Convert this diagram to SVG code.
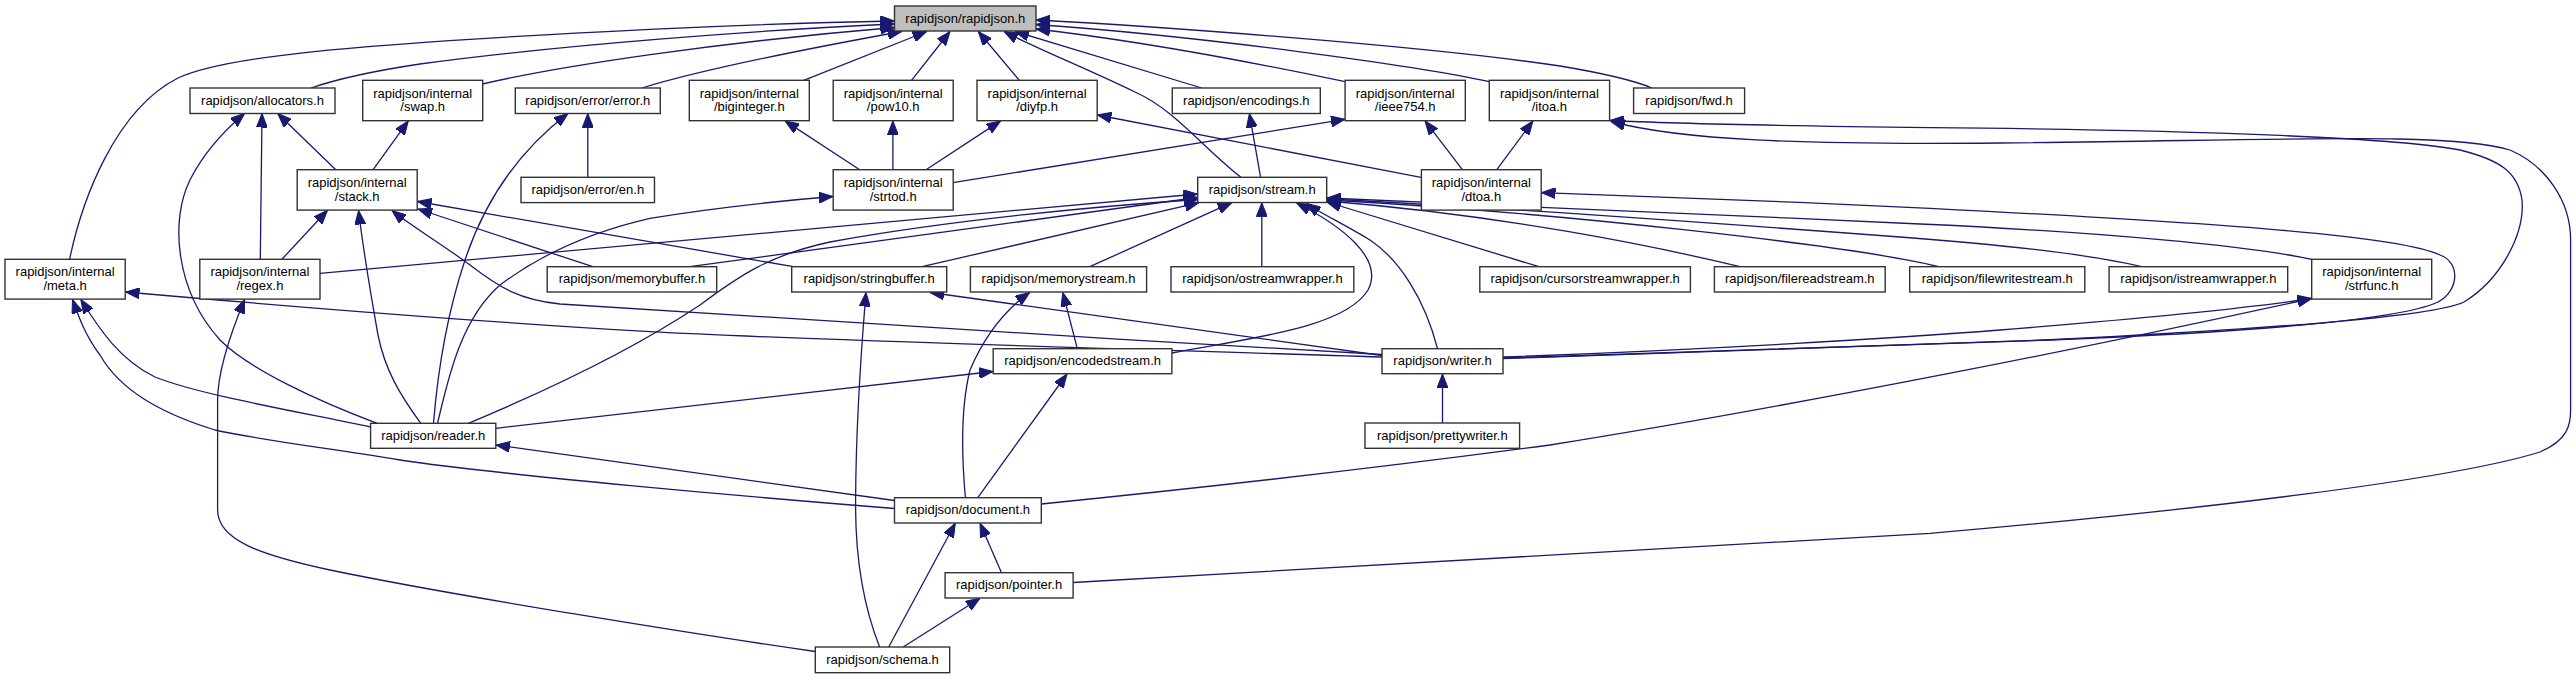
<svg xmlns="http://www.w3.org/2000/svg" width="2576" height="679" viewBox="0 0 2576 679">
<defs>
<marker id="ah" markerUnits="userSpaceOnUse" markerWidth="14" markerHeight="11" refX="14" refY="5.5" orient="auto">
<path d="M0,0 L14,5.5 L0,11 z" fill="#191970" stroke="#191970" stroke-width="1"/>
</marker>
<style>
.n rect{fill:#ffffff;stroke:#333333;stroke-width:1.4}
.n.main rect{fill:#bfbfbf}
.n text{font-family:"Liberation Sans",Arial,sans-serif;font-size:13px;fill:#000000;text-anchor:middle}
#edges path{fill:none;stroke:#191970;stroke-width:1.3;marker-end:url(#ah)}
</style>
</defs>
<rect width="2576" height="679" fill="#ffffff"/>
<g id="edges">
<!-- into rapidjson.h -->
<path d="M69.6,259.3 C82,200 115,110 178,78 C220,58 330,45 650,29.3 C760,24 840,22 894.3,21"/>
<path d="M311,88 C340,78 380,70 420,64 C560,45 760,30 894.3,24"/>
<path d="M482.5,84 C560,66 720,42 894.3,27.5"/>
<path d="M642,88 C700,70 800,50 901.7,31.5"/>
<path d="M803.7,80.3 L926.7,31.5"/>
<path d="M911.5,80.3 L950,31.5"/>
<path d="M1019.3,80.3 L978.3,31.5"/>
<path d="M1241,177.3 C1200,145 1175,110 1135,92 C1090,70 1040,50 1004,31.5"/>
<path d="M1201.7,88 L1015,31.5"/>
<path d="M1345.1,81.7 C1280,68 1150,42 1036,29"/>
<path d="M1489.3,81.7 C1420,66 1200,36 1036,24.5"/>
<path d="M1652,88 C1640,83 1620,76 1560,66 C1420,45 1150,26 1036,20"/>
<!-- allocators -->
<path d="M335.8,169.7 L277.7,113.5"/>
<path d="M260.3,259.3 L262,113.5"/>
<path d="M377.2,423.3 C320,402 250,370 220,340 C175,290 170,220 190,180 C205,150 225,130 244.6,113.5"/>
<!-- swap -->
<path d="M373.1,169.7 L408.3,120.9"/>
<!-- error -->
<path d="M587.8,177.3 L587.8,113.5"/>
<path d="M433.5,423.3 C437,380 445,320 465,260 C485,200 520,150 568,113.5"/>
<!-- biginteger, pow10, diyfp -->
<path d="M859.7,169.7 L785.1,120.9"/>
<path d="M892.9,169.7 L892.9,120.9"/>
<path d="M926,169.7 L1000.6,120.9"/>
<path d="M1421,177.3 L1097.4,115"/>
<!-- ieee754, itoa -->
<path d="M953,182.7 L1345,119.3"/>
<path d="M1462.4,169.7 L1425,120.9"/>
<path d="M1496.8,169.7 L1532.9,120.9"/>
<!-- encodings -->
<path d="M1260.6,177.3 L1249.4,113.5"/>
<!-- strtod -->
<path d="M437.5,423.3 C448,380 460,320 500,285 C540,255 590,232 650,218.3 C720,207 790,200 833,196.5"/>
<!-- stack -->
<path d="M281.9,259.3 L327.5,210.3"/>
<path d="M420.8,423.3 C400,395 385,370 378,335 C370,290 362,240 358.6,210.5"/>
<path d="M1382,354.5 C1100,338 750,318 560,304 C520,300 500,288 470,265 C440,243 410,225 392,210.5"/>
<path d="M592.8,266.7 L418,209"/>
<path d="M793.4,266.7 L417.5,201.5"/>
<!-- meta -->
<path d="M1382,357 C1100,348 800,340 650,331.7 C450,320 250,303 125.5,292"/>
<path d="M370.6,427 C300,412 200,395 155,377 C120,360 100,330 80.8,299.5"/>
<path d="M894.5,508.5 C750,497 500,475 400,460 C320,447 260,440 215,430 C160,413 120,390 100,355 C85,335 78,315 72.5,299.5"/>
<!-- regex -->
<path d="M815.3,651.5 C700,635 450,595 330,570 C260,555 217.6,540 217.6,510 L217.6,400 C217.6,370 232,330 244.6,299.5"/>
<!-- stream -->
<path d="M320,273.3 L1197.5,194"/>
<path d="M689.7,266.7 L1197.5,197.5"/>
<path d="M468.4,423.3 C560,385 640,345 700,305 C740,275 770,255 830,242 C950,220 1100,206 1197.5,199.5"/>
<path d="M921.9,266.7 L1199,202.7"/>
<path d="M1089.8,266.7 L1231.7,202.7"/>
<path d="M1261.8,266.7 L1261.8,202.7"/>
<path d="M1539,266.7 L1326.9,202"/>
<path d="M1740,266.7 C1650,245 1500,215 1326.9,201"/>
<path d="M1938.8,266.7 C1850,245 1550,212 1326.9,200"/>
<path d="M2141.7,266.7 C2080,252 1980,243 1900,237 C1700,222 1450,205 1326.9,199"/>
<path d="M2311.6,259.3 C2250,246 2100,232 1920,224 C1700,214 1450,203 1326.9,198"/>
<path d="M1172,353 C1250,338 1345,328 1368,290 C1385,258 1340,225 1296.7,203"/>
<path d="M1437.5,348.7 C1425,300 1400,260 1370,240 C1340,222 1320,213 1306.7,203.5"/>
<!-- stringbuffer -->
<path d="M1382,355.5 L930.2,292.5"/>
<path d="M879.6,647 C865,610 855,560 855.6,500 C856,420 862,340 866,292.5"/>
<!-- memorystream -->
<path d="M1077.3,348.7 L1062.8,292.5"/>
<path d="M965.4,497.7 C962,460 960,410 970,370 C985,335 1005,310 1029.7,292.5"/>
<!-- reader -->
<path d="M894.5,500.5 L496,445"/>
<!-- encodedstream -->
<path d="M495.8,428.3 L993,371.5"/>
<path d="M977.8,497.7 L1067,374"/>
<!-- document -->
<path d="M888.7,647 L955.3,523.3"/>
<path d="M1001.5,572.7 L980,523.3"/>
<!-- pointer -->
<path d="M903.2,647 L980,598.3"/>
<!-- strfunc -->
<path d="M1041.3,504 C1200,488 1400,465 1550,445 C1800,405 2100,345 2311.6,298.5"/>
<path d="M1503,357 C1700,350 1900,338 2000,330 C2150,318 2250,308 2311.6,298.5"/>
<!-- dtoa loop -->
<path d="M1503,358 C1700,352 1900,346 2050,340 C2250,332 2400,320 2438,302 C2460,290 2460,262 2440,255 C2400,235 2200,222 1930,208.3 C1800,202 1650,196 1541.5,192.7"/>
<!-- itoa loops -->
<path d="M1503,358.5 C1700,353 1900,346 2045,340 C2250,330 2430,318 2464,302 C2500,280 2525,235 2522,200 C2518,172 2500,160 2460,150 C2400,138 2200,130 1930,127.7 C1800,126 1680,124 1610,120.5"/>
<path d="M1073.2,582.5 C1200,576 1500,560 1930,533.3 C2200,510 2450,480 2540,452 C2568,440 2570.6,425 2570.6,410 L2570.6,240 C2570.6,200 2545,165 2510,150 C2450,132 2300,140 2000,143 C1800,145 1680,140 1611,121.5"/>
<!-- writer -->
<path d="M1442.5,423 L1442.5,374"/>
</g>
<g id="n_rapidjson" class="n main"><rect x="894.5" y="6" width="141.5" height="25"/><text x="965.3" y="22.5">rapidjson/rapidjson.h</text></g>
<g id="n_allocators" class="n"><rect x="190" y="88" width="145" height="25.5"/><text x="262.5" y="104.7">rapidjson/allocators.h</text></g>
<g id="n_swap" class="n"><rect x="362.7" y="80.3" width="120" height="40.4"/><text x="422.7" y="97.5">rapidjson/internal</text><text x="422.7" y="111.3">/swap.h</text></g>
<g id="n_error" class="n"><rect x="515.3" y="88" width="145" height="25.5"/><text x="587.8" y="104.7">rapidjson/error/error.h</text></g>
<g id="n_biginteger" class="n"><rect x="689.3" y="80.3" width="120" height="40.4"/><text x="749.3" y="97.5">rapidjson/internal</text><text x="749.3" y="111.3">/biginteger.h</text></g>
<g id="n_pow10" class="n"><rect x="833.2" y="80.3" width="120" height="40.4"/><text x="893.2" y="97.5">rapidjson/internal</text><text x="893.2" y="111.3">/pow10.h</text></g>
<g id="n_diyfp" class="n"><rect x="977" y="80.3" width="120.2" height="40.4"/><text x="1037.1" y="97.5">rapidjson/internal</text><text x="1037.1" y="111.3">/diyfp.h</text></g>
<g id="n_encodings" class="n"><rect x="1172.3" y="88" width="148" height="25.5"/><text x="1246.3" y="104.7">rapidjson/encodings.h</text></g>
<g id="n_ieee754" class="n"><rect x="1345.1" y="80.3" width="120.2" height="40.4"/><text x="1405.2" y="97.5">rapidjson/internal</text><text x="1405.2" y="111.3">/ieee754.h</text></g>
<g id="n_itoa" class="n"><rect x="1489.3" y="80.3" width="120.3" height="40.4"/><text x="1549.4" y="97.5">rapidjson/internal</text><text x="1549.4" y="111.3">/itoa.h</text></g>
<g id="n_fwd" class="n"><rect x="1633.6" y="88" width="111" height="25.5"/><text x="1689.1" y="104.7">rapidjson/fwd.h</text></g>
<g id="n_stack" class="n"><rect x="297.2" y="169.7" width="120" height="40.4"/><text x="357.2" y="186.9">rapidjson/internal</text><text x="357.2" y="200.7">/stack.h</text></g>
<g id="n_en" class="n"><rect x="521" y="177.3" width="133.5" height="25.3"/><text x="587.8" y="193.9">rapidjson/error/en.h</text></g>
<g id="n_strtod" class="n"><rect x="833.2" y="169.7" width="120" height="40.4"/><text x="893.2" y="186.9">rapidjson/internal</text><text x="893.2" y="200.7">/strtod.h</text></g>
<g id="n_stream" class="n"><rect x="1197.7" y="177.3" width="129" height="25.2"/><text x="1262.2" y="193.9">rapidjson/stream.h</text></g>
<g id="n_dtoa" class="n"><rect x="1421.4" y="169.7" width="119.8" height="40.4"/><text x="1481.3" y="186.9">rapidjson/internal</text><text x="1481.3" y="200.7">/dtoa.h</text></g>
<g id="n_meta" class="n"><rect x="5" y="259.3" width="120.2" height="39.8"/><text x="65.1" y="276.3">rapidjson/internal</text><text x="65.1" y="290.1">/meta.h</text></g>
<g id="n_regex" class="n"><rect x="199.8" y="259.3" width="120.2" height="39.8"/><text x="259.9" y="276.3">rapidjson/internal</text><text x="259.9" y="290.1">/regex.h</text></g>
<g id="n_memorybuffer" class="n"><rect x="547.2" y="266.7" width="169.5" height="25.3"/><text x="632" y="283.3">rapidjson/memorybuffer.h</text></g>
<g id="n_stringbuffer" class="n"><rect x="791.7" y="266.7" width="155" height="25.3"/><text x="869.2" y="283.3">rapidjson/stringbuffer.h</text></g>
<g id="n_memorystream" class="n"><rect x="970.4" y="266.7" width="176.2" height="25.3"/><text x="1058.5" y="283.3">rapidjson/memorystream.h</text></g>
<g id="n_ostreamwrapper" class="n"><rect x="1171" y="266.7" width="182.8" height="25.3"/><text x="1262.4" y="283.3">rapidjson/ostreamwrapper.h</text></g>
<g id="n_cursorstreamwrapper" class="n"><rect x="1479.8" y="266.7" width="210.6" height="25.3"/><text x="1585.1" y="283.3">rapidjson/cursorstreamwrapper.h</text></g>
<g id="n_filereadstream" class="n"><rect x="1714.4" y="266.7" width="170.8" height="25.3"/><text x="1799.8" y="283.3">rapidjson/filereadstream.h</text></g>
<g id="n_filewritestream" class="n"><rect x="1909.7" y="266.7" width="175.1" height="25.3"/><text x="1997.3" y="283.3">rapidjson/filewritestream.h</text></g>
<g id="n_istreamwrapper" class="n"><rect x="2109.1" y="266.7" width="178.6" height="25.3"/><text x="2198.4" y="283.3">rapidjson/istreamwrapper.h</text></g>
<g id="n_strfunc" class="n"><rect x="2311.7" y="259.3" width="120" height="39.8"/><text x="2371.7" y="276.3">rapidjson/internal</text><text x="2371.7" y="290.1">/strfunc.h</text></g>
<g id="n_encodedstream" class="n"><rect x="993.2" y="348.7" width="178.7" height="25"/><text x="1082.6" y="365.2">rapidjson/encodedstream.h</text></g>
<g id="n_writer" class="n"><rect x="1382" y="348.7" width="121" height="25"/><text x="1442.5" y="365.2">rapidjson/writer.h</text></g>
<g id="n_reader" class="n"><rect x="370.6" y="423.3" width="125.2" height="25"/><text x="433.2" y="439.8">rapidjson/reader.h</text></g>
<g id="n_prettywriter" class="n"><rect x="1365" y="423" width="154.6" height="25.3"/><text x="1442.3" y="439.6">rapidjson/prettywriter.h</text></g>
<g id="n_document" class="n"><rect x="894.5" y="497.7" width="146.8" height="25.3"/><text x="967.9" y="514.3">rapidjson/document.h</text></g>
<g id="n_pointer" class="n"><rect x="945.1" y="572.7" width="128" height="25.3"/><text x="1009.1" y="589.3">rapidjson/pointer.h</text></g>
<g id="n_schema" class="n"><rect x="815.3" y="647" width="134.4" height="25.7"/><text x="882.5" y="663.8">rapidjson/schema.h</text></g>
</svg>
